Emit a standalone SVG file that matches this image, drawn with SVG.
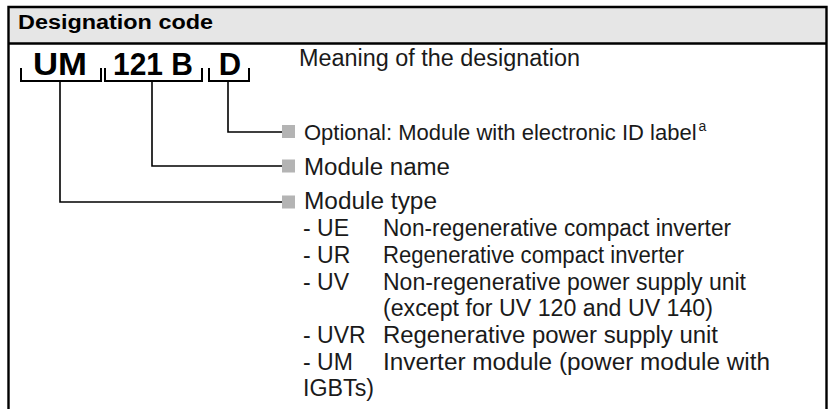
<svg xmlns="http://www.w3.org/2000/svg" width="836" height="409" viewBox="0 0 836 409">
<style>
.frame{fill:none;stroke:#000;stroke-width:2.4}
.hdr{font-family:"Liberation Sans",Arial,sans-serif;font-weight:bold;font-size:20px;fill:#000}
.code{font-family:"Liberation Sans",Arial,sans-serif;font-weight:bold;font-size:31px;fill:#000;text-anchor:middle}
.t{font-family:"Liberation Sans",Arial,sans-serif;font-size:23px;fill:#1a1a1a}
.sup{font-size:14px}
.br{fill:none;stroke:#000;stroke-width:2}
.cn{fill:none;stroke:#000;stroke-width:1.6}
.sq{fill:#b4b4b4}
</style>
<g id="table">
<rect x="8" y="7" width="819" height="36" fill="#e6e6e6"/>
<path class="frame" d="M8.5,409 V7 H826.5 V409 M8.5,43.5 H826.5"/>
<text class="hdr" x="18" y="28.5" textLength="195" lengthAdjust="spacingAndGlyphs">Designation code</text>
</g>
<g id="code">
<text class="code" x="60" y="75" textLength="54" lengthAdjust="spacingAndGlyphs">UM</text>
<text class="code" x="153" y="75" textLength="80" lengthAdjust="spacingAndGlyphs">121 B</text>
<text class="code" x="230" y="75">D</text>
<path class="br" d="M21,68 V81 H101 V68 M105,68 V81 H202 V68 M209,68 V81 H249 V68"/>
</g>
<g id="connectors">
<path class="cn" d="M228,81 V132 H283"/>
<path class="cn" d="M152,81 V166 H283"/>
<path class="cn" d="M60,81 V202 H283"/>
</g>
<g id="node-optional">
<rect class="sq" x="282" y="125" width="13" height="13"/>
</g>
<g id="node-name">
<rect class="sq" x="282" y="159.5" width="13" height="13"/>
</g>
<g id="node-type">
<rect class="sq" x="282" y="195.5" width="13" height="13"/>
</g>
<g id="texts">
<text class="t" x="299" y="66" textLength="281" lengthAdjust="spacingAndGlyphs">Meaning of the designation</text>
<text class="t" x="304" y="140"><tspan style="font-size:22px">Optional: Module with electronic ID label</tspan><tspan class="sup" dx="2" dy="-9">a</tspan></text>
<text class="t" x="304" y="175" textLength="146" lengthAdjust="spacingAndGlyphs">Module name</text>
<text class="t" x="304" y="208.5" textLength="133" lengthAdjust="spacingAndGlyphs">Module type</text>
<text class="t" x="303" y="236">- UE</text>
<text class="t" x="383" y="236" textLength="348" lengthAdjust="spacingAndGlyphs">Non-regenerative compact inverter</text>
<text class="t" x="303" y="263">- UR</text>
<text class="t" x="383" y="263" textLength="301" lengthAdjust="spacingAndGlyphs">Regenerative compact inverter</text>
<text class="t" x="303" y="289.5">- UV</text>
<text class="t" x="383" y="289.5" textLength="363" lengthAdjust="spacingAndGlyphs">Non-regenerative power supply unit</text>
<text class="t" x="383" y="316" textLength="330" lengthAdjust="spacingAndGlyphs">(except for UV 120 and UV 140)</text>
<text class="t" x="303" y="343">- UVR</text>
<text class="t" x="383" y="343" textLength="335" lengthAdjust="spacingAndGlyphs">Regenerative power supply unit</text>
<text class="t" x="303" y="369.5">- UM</text>
<text class="t" x="383" y="369.5" textLength="387" lengthAdjust="spacingAndGlyphs">Inverter module (power module with</text>
<text class="t" x="303" y="396" textLength="71" lengthAdjust="spacingAndGlyphs">IGBTs)</text>
</g>
</svg>
